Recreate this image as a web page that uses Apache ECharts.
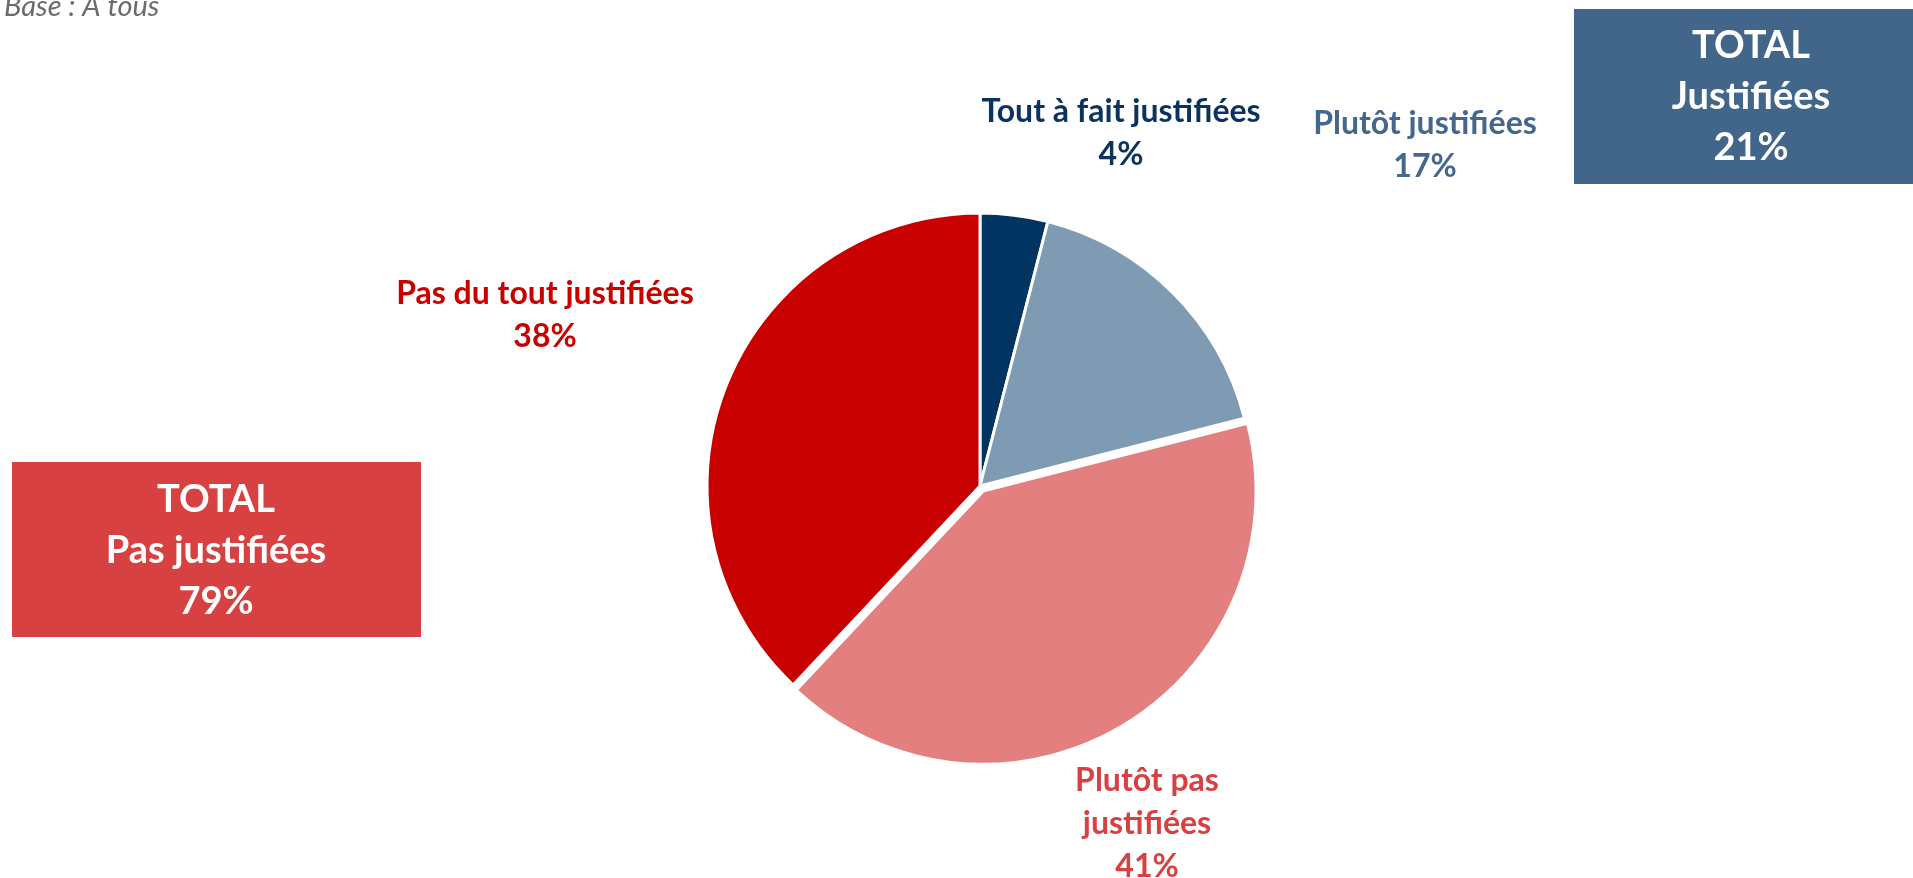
<!DOCTYPE html>
<html>
<head>
<meta charset="utf-8">
<script src="https://cdn.jsdelivr.net/npm/echarts@6/dist/echarts.min.js"></script>
<style>html,body{margin:0;padding:0;background:#fff;}#c{width:1913px;height:878px;}</style>
</head>
<body>
<div id="c"></div>
<script>
const categories = ['Tout à fait justifiées', 'Plutôt justifiées', 'Plutôt pas justifiées', 'Pas du tout justifiées'];
const values = [4, 17, 41, 38];
const sliceColors = ['#023461', '#7F9BB4', '#E37F7F', '#C90000'];
const labelColors = ['#0B335F', '#45678D', '#D84141', '#C90000'];
const totalLabels = ['TOTAL\nJustifiées', 'TOTAL\nPas justifiées'];
const totalValues = [21, 79];
const baseText = 'Base : A tous';
const explodedIndex = 2;

const FONT = 'Lato, "Open Sans", sans-serif';
// label anchor positions (px)
const labelPos = [[1121, 133], [1425, 145], [1147, 824], [545, 315]];
const pieCenter = [980, 486];
const pieRadius = 273;
const explodeDist = 6;

// direction of the exploded slice's mid-angle (clockwise from 12 o'clock)
const total = values.reduce((a, b) => a + b, 0);
let before = 0;
for (let i = 0; i < explodedIndex; i++) before += values[i];
const midFrac = (before + values[explodedIndex] / 2) / total;
const ang = midFrac * 2 * Math.PI;
const explodedCenter = [pieCenter[0] + explodeDist * Math.sin(ang), pieCenter[1] - explodeDist * Math.cos(ang)];

const chart = echarts.init(document.getElementById('c'), null, {renderer: 'canvas'});
const mainData = categories.map((n, i) => ({
  name: n,
  value: values[i],
  itemStyle: i === explodedIndex ? {color: 'rgba(0,0,0,0)', borderWidth: 0} : {color: sliceColors[i]},
  label: {
    color: labelColors[i],
    formatter: i === 2 ? 'Plutôt pas\njustifiées\n{c}%' : '{b}\n{c}%'
  }
}));
const explodedData = categories.map((n, i) => ({
  name: n,
  value: values[i],
  itemStyle: i === explodedIndex ? {color: sliceColors[i]} : {color: 'rgba(0,0,0,0)', borderWidth: 0}
}));

chart.setOption({
  animation: false,
  graphic: [
    {type: 'text', x: 4, y: 21, style: {text: baseText, font: 'italic 29px ' + FONT, fill: '#6b6b6b', verticalAlign: 'bottom'}},
    {type: 'rect', shape: {x: 1574, y: 9, width: 345, height: 175}, style: {fill: '#41668A'}},
    {type: 'text', x: 1751, y: 97, style: {text: totalLabels[0] + '\n' + totalValues[0] + '%', font: 'bold 38px ' + FONT, fill: '#fff', align: 'center', verticalAlign: 'middle', lineHeight: 51}},
    {type: 'rect', shape: {x: 12, y: 462, width: 409, height: 175}, style: {fill: '#D84141'}},
    {type: 'text', x: 216, y: 551, style: {text: totalLabels[1] + '\n' + totalValues[1] + '%', font: 'bold 38px ' + FONT, fill: '#fff', align: 'center', verticalAlign: 'middle', lineHeight: 51}}
  ],
  series: [{
    type: 'pie',
    center: pieCenter,
    radius: pieRadius,
    startAngle: 90,
    clockwise: true,
    selectedMode: false,
    itemStyle: {borderColor: '#fff', borderWidth: 3},
    label: {
      show: true,
      position: 'outside',
      fontFamily: FONT,
      fontWeight: 'bold',
      fontSize: 32,
      lineHeight: 43,
      align: 'center'
    },
    labelLine: {show: false},
    labelLayout: function (p) {
      const pos = labelPos[p.dataIndex];
      return {x: pos[0], y: pos[1], align: 'center', verticalAlign: 'middle', moveOverlap: false, hideOverlap: false};
    },
    emphasis: {disabled: true},
    data: mainData
  }, {
    type: 'pie',
    center: explodedCenter,
    radius: pieRadius,
    startAngle: 90,
    clockwise: true,
    selectedMode: false,
    silent: true,
    itemStyle: {borderColor: '#fff', borderWidth: 3},
    label: {show: false},
    labelLine: {show: false},
    emphasis: {disabled: true},
    data: explodedData
  }]
});
</script>
</body>
</html>
